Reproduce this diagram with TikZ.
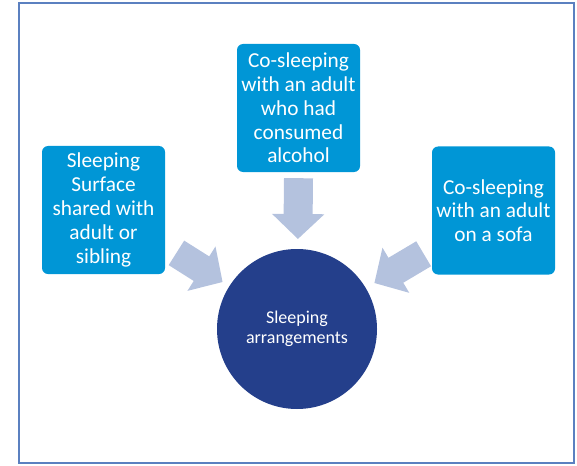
\documentclass[tikz,border=0pt]{standalone}
\usepackage{fontspec}
\setmainfont{Carlito}
\usetikzlibrary{arrows.meta}
\definecolor{boxblue}{HTML}{0096D6}
\definecolor{navy}{HTML}{243F8B}
\definecolor{arrowgrey}{HTML}{B4C2DE}
\definecolor{frameblue}{HTML}{5B80C0}
\begin{document}
\begin{tikzpicture}[x=1pt,y=-1pt,
	cause/.style={fill=boxblue,rounded corners=6pt,minimum width=123pt,minimum height=128pt,
		text=white,align=center,font=\fontsize{21.3}{23.8}\selectfont,inner sep=0pt},
	centre/.style={circle,fill=navy,minimum size=160pt,text=white,align=center,
		font=\fontsize{18}{20.5}\selectfont,inner sep=0pt},
	bigarrow/.style={draw=arrowgrey,line width=29pt,-{Triangle[length=25pt,width=51pt]}}]
	\useasboundingbox (0,0) rectangle (577,465);
	\draw[frameblue,line width=2.2pt] (19,3) rectangle (574,463);
	
	\node[cause] (surface) at (103.5,210) {Sleeping\\Surface\\shared with\\adult or\\sibling};
	\node[cause] (alcohol) at (298.5,108) {Co-sleeping\\with an adult\\who had\\consumed\\alcohol};
	\node[cause] (sofa) at (493.5,210.5) {Co-sleeping\\with an adult\\on a sofa};
	\node[centre] (sleep) at (297,329) {Sleeping\\arrangements};
	
	\coordinate (ltail) at ([shift={(7,-24)}]surface.south east);
	\coordinate (ttail) at ([shift={(0,6)}]alcohol.south);
	\coordinate (rtail) at ([shift={(-3,-24)}]sofa.south west);
	\draw[bigarrow,shorten <=5pt,shorten >=88pt] (ltail) -- (sleep.center);
	\draw[bigarrow,shorten >=90pt] (ttail) -- (sleep.center);
	\draw[bigarrow,shorten <=6pt,shorten >=90pt] (rtail) -- (sleep.center);
\end{tikzpicture}
\end{document}
